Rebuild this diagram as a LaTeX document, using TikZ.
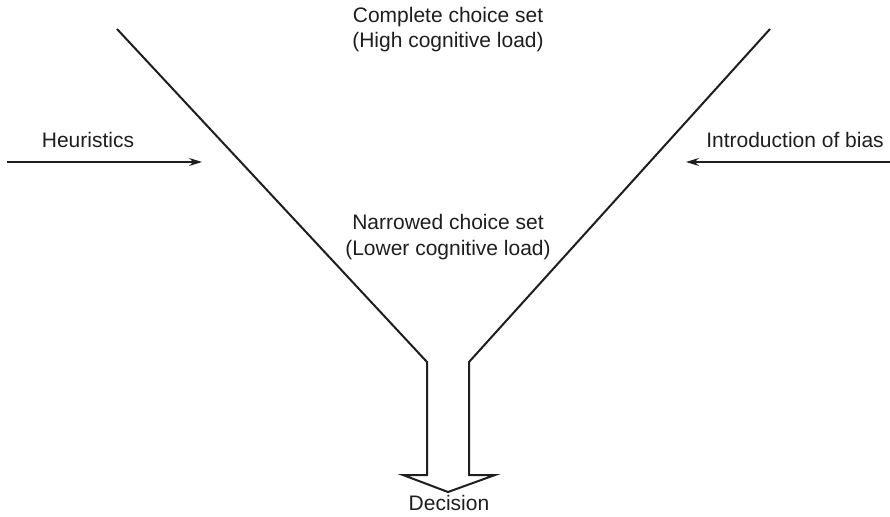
\documentclass[tikz,border=0pt]{standalone}
\usepackage{fontspec}
\setmainfont{Liberation Sans}
\usetikzlibrary{arrows.meta}
\definecolor{ink}{HTML}{1E1E1E}
\begin{document}
\begin{tikzpicture}[x=1pt,y=-1pt,
  lbl/.style={font=\fontsize{21}{25}\selectfont, text=ink, inner sep=0pt, anchor=base},
  funnel/.style={draw=ink, line width=2pt, line join=miter},
  pusharrow/.style={draw=ink, line width=1.3pt, -{Stealth[length=13pt,width=8pt]}}]
\useasboundingbox (0,0) rectangle (890,516);

% funnel outline with the downward arrow at its spout
\coordinate (tl) at (117,29);
\coordinate (tr) at (770,29);
\coordinate (kl) at (427,362);
\coordinate (kr) at (469,362);
\coordinate (bl) at (427,475);
\coordinate (br) at (469,475);
\coordinate (fl) at (403,475);
\coordinate (fr) at (495,475);
\coordinate (tip) at (448,492);
\path[funnel] (tl) -- (kl) -- (bl) -- (fl) -- (tip) -- (fr) -- (br) -- (kr) -- (tr);

% labels
\node[lbl] (top1) at (448,23) {Complete choice set};
\node[lbl] (top2) at (448,48) {(High cognitive load)};
\node[lbl] (mid1) at (448,229) {Narrowed choice set};
\node[lbl] (mid2) at (448,255) {(Lower cognitive load)};
\node[lbl] (dec) at (449,510) {Decision};
\node[lbl] (heur) at (88,147) {Heuristics};
\node[lbl] (bias) at (795,147) {Introduction of bias};

% side influences
\coordinate (hs) at (7,162);
\coordinate (he) at (202,162);
\coordinate (bs) at (890,162);
\coordinate (be) at (686,162);
\draw[pusharrow] (hs) -- (he);
\draw[pusharrow] (bs) -- (be);
\end{tikzpicture}
\end{document}
